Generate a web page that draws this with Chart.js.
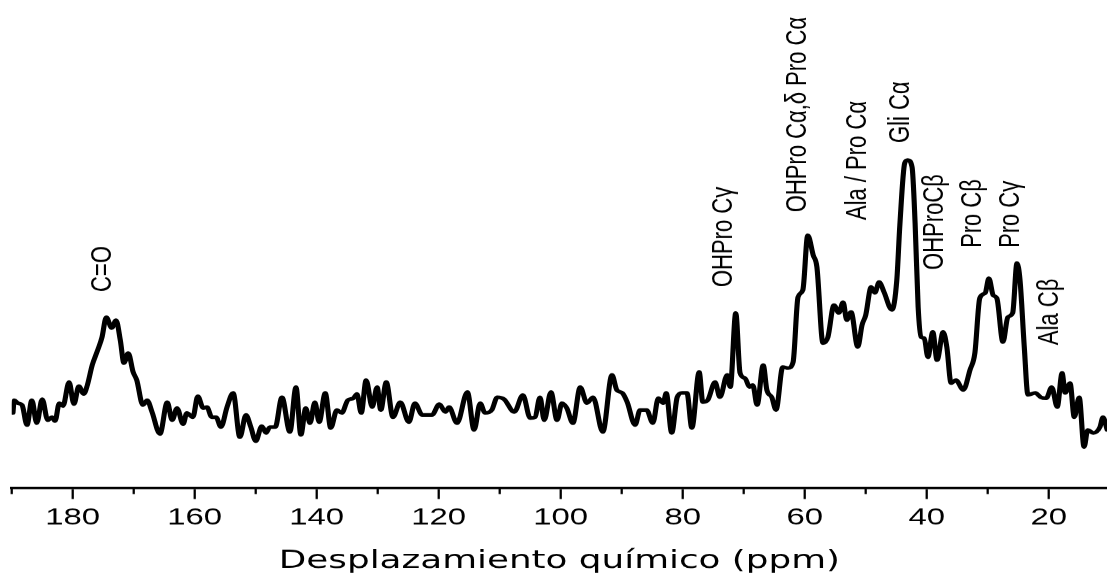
<!DOCTYPE html>
<html><head><meta charset="utf-8">
<script src="https://cdn.jsdelivr.net/npm/chart.js@4/dist/chart.umd.min.js"></script>
<style>html,body{margin:0;padding:0;background:#fff;overflow:hidden}canvas{display:block}</style>
</head><body>
<canvas id="c" width="774" height="579" style="width:1107px;height:579px"></canvas>
<script>
// Chemical shift (ppm) of each sampled point of the spectrum
const shiftPpm = [
189.8,189.6,189.0,188.3,187.5,186.7,185.9,185.0,184.1,183.4,
182.9,182.2,181.6,180.6,179.8,179.0,178.2,177.6,176.8,175.9,
175.2,174.5,173.6,172.9,172.2,171.6,170.9,170.1,169.5,168.5,
167.8,167.0,165.7,164.5,163.7,162.9,161.9,161.3,160.3,159.5,
158.6,158.0,157.2,156.5,155.7,154.7,153.7,152.6,151.6,150.8,
150.0,149.0,148.3,147.7,146.8,145.7,144.4,143.4,142.6,141.8,
141.1,140.3,139.6,138.6,137.7,136.7,135.9,134.9,134.0,133.4,
132.7,131.9,130.9,130.1,129.5,128.6,127.5,126.3,124.9,123.9,
122.7,121.1,119.9,118.9,118.3,117.0,115.3,114.2,113.2,112.4,
111.3,110.4,109.3,107.6,106.2,105.0,104.2,103.4,102.7,101.6,
100.6,99.8,99.0,98.0,96.8,95.7,94.7,93.1,91.6,90.8,
89.9,89.1,87.8,87.0,85.9,84.9,84.0,83.2,82.7,81.8,
80.9,80.1,79.3,78.5,77.3,76.7,75.9,74.7,73.9,72.7,
72.2,71.3,70.6,69.8,69.0,68.5,67.8,66.8,66.2,65.4,
64.7,63.6,62.7,61.9,61.1,60.3,59.5,58.6,58.0,57.0,
56.2,55.2,54.4,53.7,53.1,52.4,51.3,50.6,50.0,49.1,
48.5,47.8,47.0,45.7,44.9,44.4,43.6,43.1,42.4,41.9,
41.4,40.9,40.4,39.8,39.0,38.3,37.3,36.7,36.0,35.2,
34.0,32.9,32.1,31.3,30.4,29.8,29.1,28.5,27.5,26.7,
25.9,25.2,24.7,24.0,23.4,22.2,21.3,20.4,19.5,18.6,
17.8,17.3,16.5,15.8,15.0,14.2,13.6,12.7,11.6,11.1,10.4
];
// Relative intensity (main peak = 100)
const intensity = [
22.9,26.8,25.9,25.3,19.2,26.8,19.8,27.1,20.7,21.6,
20.4,25.9,25.0,32.3,25.6,31.1,28.7,31.4,37.5,42.1,
46.0,52.1,48.8,51.2,45.1,38.1,41.2,35.4,32.9,25.3,
26.8,23.2,16.5,26.2,20.7,24.4,19.5,22.9,21.6,28.0,
24.4,24.7,21.6,21.6,18.6,24.7,29.0,15.5,22.3,18.6,
14.3,18.9,16.8,18.6,18.6,27.7,17.1,30.8,16.2,24.4,
19.8,26.2,20.1,29.0,18.3,23.8,22.9,26.8,27.4,28.7,
22.9,32.9,24.7,30.8,23.8,32.3,21.6,26.2,20.1,25.9,
22.3,22.3,25.6,23.2,24.7,19.8,29.3,17.7,25.9,22.9,
23.8,27.7,27.1,23.2,28.4,21.3,21.6,27.7,20.7,29.3,
20.7,25.9,24.4,19.8,30.8,25.9,27.7,17.1,34.5,29.9,
29.0,26.2,19.2,23.8,23.8,19.8,27.4,25.9,29.0,16.8,
27.7,29.0,29.0,18.3,35.4,26.2,26.8,32.3,27.7,34.5,
30.8,53.4,35.1,33.5,30.8,31.4,25.3,37.5,29.9,27.7,
23.8,36.9,36.6,38.4,58.2,60.4,77.1,71.0,67.4,44.2,
46.0,55.8,53.4,56.7,51.2,53.7,43.0,49.7,52.7,61.3,
59.5,62.8,59.8,54.3,63.4,80.2,99.1,100,97.9,80.8,
55.2,46.0,45.7,39.9,47.6,39.0,47.6,43.0,32.0,32.9,
29.9,36.0,41.2,57.9,59.5,64.0,58.8,57.9,44.5,52.1,
53.4,68.6,63.4,43.0,28.4,29.0,27.7,27.4,30.8,24.7,
35.1,29.0,32.0,21.6,27.7,12.5,17.7,16.8,18.6,21.6,17.7
];
const majorTicks = [180,160,140,120,100,80,60,40,20];
const minorTicks = [190,170,150,130,110,90,70,50,30];
const axisTitle = 'Desplazamiento químico (ppm)';
// Peak assignments: label text, chemical shift, intensity level where the label starts
const peakLabels = ['C=O','OHPro C\u03b3','OHPro C\u03b1,\u03b4 Pro C\u03b1','Ala / Pro C\u03b1','Gli C\u03b1','OHProC\u03b2','Pro C\u03b2','Pro C\u03b3','Ala C\u03b2'];
const labelPpm   = [173.7, 71.9, 59.8, 50.0, 42.9, 37.3, 31.1, 24.9, 18.5];
const labelLevel = [59.8, 61.3, 84.1, 81.7, 105.2, 66.5, 73.2, 73.2, 43.6];

const STRETCH = 1107 / 774;

const minorTickPlugin = {
  id: 'minorTicks',
  afterDraw(chart) {
    const s = chart.scales.x, ctx = chart.ctx;
    ctx.save();
    ctx.strokeStyle = '#000';
    ctx.lineWidth = 1.6;
    minorTicks.forEach(v => {
      const px = s.getPixelForValue(v);
      ctx.beginPath();
      ctx.moveTo(px, s.top);
      ctx.lineTo(px, s.top + 6);
      ctx.stroke();
    });
    ctx.restore();
  }
};

const peakLabelPlugin = {
  id: 'peakLabels',
  afterDatasetsDraw(chart) {
    const {ctx, scales: {x, y}} = chart;
    ctx.save();
    ctx.fillStyle = '#000';
    ctx.font = '22px "Liberation Sans", Arial, sans-serif';
    ctx.textAlign = 'left';
    ctx.textBaseline = 'alphabetic';
    peakLabels.forEach((t, i) => {
      ctx.save();
      ctx.translate(x.getPixelForValue(labelPpm[i]), y.getPixelForValue(labelLevel[i]));
      ctx.rotate(-Math.PI / 2);
      ctx.scale(1, 0.92);
      ctx.fillText(t, 0, 0);
      ctx.restore();
    });
    ctx.restore();
  }
};

new Chart(document.getElementById('c'), {
  type: 'line',
  data: {
    datasets: [{
      data: shiftPpm.map((v, i) => ({x: v, y: intensity[i]})),
      borderColor: '#000',
      borderWidth: 3.6,
      pointRadius: 0,
      fill: false,
      cubicInterpolationMode: 'monotone',
      borderJoinStyle: 'round',
      borderCapStyle: 'round'
    }]
  },
  options: {
    responsive: false,
    devicePixelRatio: STRETCH,
    animation: false,
    events: [],
    layout: {padding: {left: 8.2, right: 0, top: 0, bottom: 0}},
    plugins: {legend: {display: false}, tooltip: {enabled: false}},
    scales: {
      x: {
        type: 'linear',
        reverse: true,
        min: 10.44,
        max: 190,
        afterBuildTicks: s => { s.ticks = majorTicks.map(v => ({value: v})); },
        afterFit: s => { s.height = 91; },
        border: {display: true, color: '#000', width: 2.5},
        grid: {display: true, drawOnChartArea: false, drawTicks: true, tickLength: 11, tickColor: '#000', tickWidth: 1.6},
        ticks: {color: '#000', font: {family: '"Liberation Sans", Arial, sans-serif', size: 23}, padding: 5, maxRotation: 0, autoSkip: false, callback: v => String(v)},
        title: {display: true, text: axisTitle, color: '#000', font: {family: '"DejaVu Sans", sans-serif', size: 25}, padding: {top: 0, bottom: 3}}
      },
      y: {display: false, min: 0, max: 148.8}
    }
  },
  plugins: [minorTickPlugin, peakLabelPlugin]
});
</script>
</body></html>
